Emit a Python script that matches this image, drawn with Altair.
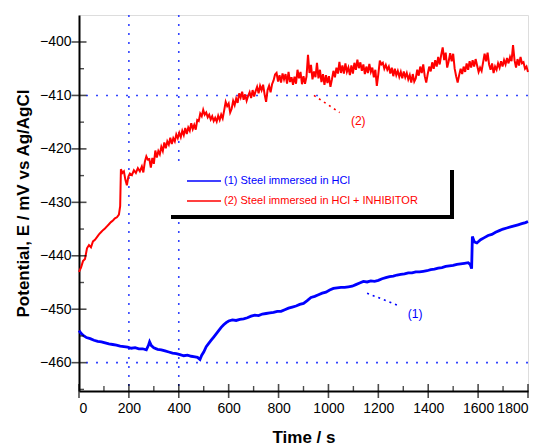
import altair as alt
import pandas as pd

# ---- data ----
red_t = [0, 8, 16, 24, 32, 40, 48, 56, 64, 72, 80, 88, 96, 104, 112, 120, 128, 136, 144, 152, 160, 165, 168, 174, 180, 186, 192, 198, 204, 212, 220, 228, 236, 244, 252, 258, 264, 270, 276, 282, 288, 294, 300, 306, 312, 318, 324, 330, 336, 342, 348, 354, 360, 366, 372, 378, 384, 390, 396, 402, 408, 414, 420, 426, 432, 438, 444, 450, 456, 462, 468, 474, 480, 486, 492, 498, 504, 510, 516, 522, 528, 534, 540, 546, 552, 558, 564, 570, 576, 582, 588, 594, 600, 606, 612, 618, 624, 630, 636, 642, 648, 654, 660, 666, 672, 678, 684, 690, 696, 702, 708, 714, 720, 726, 732, 738, 744, 750, 756, 762, 768, 774, 780, 786, 792, 798, 804, 810, 816, 822, 828, 834, 840, 846, 852, 858, 864, 870, 876, 882, 888, 894, 900, 906, 912, 918, 924, 930, 936, 942, 948, 954, 960, 966, 972, 978, 984, 990, 996, 1002, 1008, 1014, 1020, 1026, 1032, 1038, 1044, 1050, 1056, 1062, 1068, 1074, 1080, 1086, 1092, 1098, 1104, 1110, 1116, 1122, 1128, 1134, 1140, 1146, 1152, 1158, 1164, 1170, 1176, 1182, 1188, 1194, 1200, 1206, 1212, 1218, 1224, 1230, 1236, 1242, 1248, 1254, 1260, 1266, 1272, 1278, 1284, 1290, 1296, 1302, 1308, 1314, 1320, 1326, 1332, 1338, 1344, 1350, 1356, 1362, 1368, 1374, 1380, 1386, 1392, 1398, 1404, 1410, 1416, 1422, 1428, 1434, 1440, 1446, 1452, 1458, 1464, 1470, 1476, 1482, 1488, 1494, 1500, 1506, 1512, 1518, 1524, 1530, 1536, 1542, 1548, 1554, 1560, 1566, 1572, 1578, 1584, 1590, 1596, 1602, 1608, 1614, 1620, 1626, 1632, 1638, 1644, 1650, 1656, 1662, 1668, 1674, 1680, 1686, 1692, 1698, 1704, 1710, 1716, 1722, 1728, 1734, 1740, 1746, 1752, 1758, 1764, 1770, 1776, 1782, 1788, 1794, 1800]
red_v = [-443.0, -442.2, -441.0, -440.6, -438.6, -438.0, -438.4, -437.3, -437.0, -436.5, -436.0, -435.6, -435.2, -434.9, -434.5, -434.1, -433.7, -433.4, -433.0, -432.8, -432.3, -430.7, -423.8, -424.5, -424.2, -425.8, -426.8, -425.2, -424.6, -424.9, -424.0, -424.5, -423.6, -424.2, -423.3, -424.4, -422.4, -421.4, -422.0, -421.9, -423.5, -421.7, -422.8, -420.3, -421.6, -420.4, -421.0, -419.6, -420.4, -418.8, -419.9, -418.6, -419.2, -417.9, -419.1, -418.0, -418.6, -417.3, -418.0, -417.0, -417.8, -416.6, -417.4, -416.1, -417.2, -416.0, -416.6, -415.2, -416.3, -415.5, -416.4, -414.6, -414.8, -413.4, -413.9, -412.7, -413.6, -413.2, -414.1, -413.6, -414.5, -413.9, -414.8, -414.2, -414.9, -413.8, -414.6, -413.6, -414.3, -412.8, -411.2, -412.0, -411.5, -413.2, -412.5, -411.0, -411.8, -410.6, -411.4, -409.6, -410.4, -409.3, -410.8, -409.8, -411.0, -410.1, -409.4, -410.5, -409.0, -410.2, -409.2, -408.4, -409.6, -408.2, -409.0, -408.0, -409.8, -411.2, -409.0, -408.2, -409.4, -407.9, -407.2, -406.1, -405.8, -407.4, -406.2, -407.6, -405.9, -407.0, -406.0, -407.8, -405.6, -407.5, -406.6, -408.0, -406.5, -407.8, -405.2, -406.8, -405.6, -407.9, -406.4, -407.8, -406.5, -402.4, -405.8, -404.3, -407.0, -405.5, -406.6, -403.9, -406.8, -405.2, -407.5, -406.0, -408.0, -406.2, -407.7, -406.4, -408.4, -407.0, -405.4, -406.6, -404.8, -405.9, -403.7, -405.8, -404.4, -405.9, -404.0, -405.6, -404.8, -406.2, -404.4, -405.9, -403.9, -405.2, -403.3, -404.9, -403.8, -405.4, -404.2, -406.0, -404.6, -405.8, -404.1, -405.6, -404.8, -406.6, -405.2, -408.2, -406.0, -403.5, -404.2, -403.9, -405.0, -404.3, -405.2, -404.6, -405.9, -404.8, -406.4, -405.0, -406.2, -405.4, -406.5, -405.6, -406.8, -405.5, -406.6, -405.8, -407.0, -406.2, -407.6, -406.0, -407.4, -406.8, -405.2, -406.3, -404.6, -405.8, -404.2, -406.4, -407.6, -406.0, -404.6, -405.5, -403.8, -405.0, -403.4, -404.6, -402.8, -404.2, -402.4, -401.0, -403.4, -402.0, -404.8, -403.6, -402.1, -403.6, -402.2, -405.0, -406.4, -407.6, -406.2, -405.0, -406.0, -404.6, -405.6, -404.0, -405.2, -403.6, -404.8, -403.4, -404.6, -403.2, -404.4, -405.6, -404.8, -405.4, -403.8, -402.2, -403.6, -402.0, -404.2, -405.2, -404.0, -405.8, -404.6, -405.2, -404.0, -404.8, -403.6, -404.6, -403.4, -404.2, -403.0, -404.0, -402.8, -403.6, -400.6, -403.4, -404.8, -403.2, -404.4, -402.8, -404.0, -403.8, -405.0, -404.6, -405.6]

blue_t = [0, 10, 20, 30, 45, 60, 75, 90, 105, 120, 135, 150, 165, 180, 195, 210, 225, 240, 255, 270, 278, 283, 290, 300, 315, 330, 345, 360, 375, 390, 405, 420, 435, 450, 465, 475, 485, 492, 500, 510, 520, 530, 540, 550, 560, 570, 580, 590, 600, 615, 630, 645, 660, 675, 690, 705, 720, 735, 750, 765, 780, 795, 810, 825, 840, 855, 870, 885, 900, 915, 930, 945, 960, 975, 990, 1005, 1020, 1035, 1050, 1065, 1080, 1095, 1110, 1125, 1140, 1155, 1170, 1185, 1200, 1215, 1230, 1245, 1260, 1275, 1290, 1305, 1320, 1335, 1350, 1365, 1380, 1395, 1410, 1425, 1440, 1455, 1470, 1485, 1500, 1515, 1530, 1545, 1560, 1568, 1574, 1577, 1585, 1595, 1610, 1625, 1640, 1655, 1670, 1685, 1700, 1715, 1730, 1745, 1760, 1775, 1790, 1800]
blue_v = [-454.0, -454.6, -455.0, -455.3, -455.5, -455.8, -456.0, -456.1, -456.3, -456.5, -456.6, -456.7, -456.9, -457.0, -457.1, -457.3, -457.2, -457.4, -457.4, -457.6, -456.8, -456.1, -456.8, -457.2, -457.5, -457.6, -457.8, -458.0, -458.2, -458.3, -458.5, -458.7, -458.6, -458.8, -458.9, -459.0, -459.4, -458.6, -458.0, -457.0, -456.4, -455.8, -455.2, -454.6, -454.0, -453.4, -452.9, -452.5, -452.2, -452.0, -452.1, -451.9, -451.8, -451.6, -451.3, -451.1, -451.2, -450.9, -450.8, -450.7, -450.6, -450.4, -450.4, -450.1, -449.8, -449.6, -449.4, -449.1, -448.9, -448.4, -447.8, -447.6, -447.3, -447.0, -446.8, -446.4, -446.1, -446.0, -445.9, -445.9, -445.8, -445.7, -445.4, -445.1, -444.8, -444.9, -444.7, -444.8, -444.6, -444.3, -444.1, -443.9, -443.8, -443.6, -443.5, -443.4, -443.2, -443.2, -443.0, -443.0, -442.9, -442.8, -442.6, -442.5, -442.3, -442.2, -442.0, -441.9, -441.8, -441.6, -441.5, -441.4, -441.3, -441.6, -442.4, -436.4, -437.4, -437.6, -437.0, -436.6, -436.2, -436.0, -435.6, -435.3, -435.0, -434.8, -434.6, -434.4, -434.2, -434.0, -433.8, -433.6]

x_ticks = [0, 200, 400, 600, 800, 1000, 1200, 1400, 1600, 1800]
x_minor = [100, 300, 500, 700, 900, 1100, 1300, 1500, 1700]
y_ticks = [-400, -410, -420, -430, -440, -450, -460]
y_minor = [-405, -415, -425, -435, -445, -455, -465]
grid_x = [200, 400]
grid_y = [-410, -460]

labels = ["(2)", "(1)"]
label_t = [1090, 1318]
label_v = [-414.8, -450.8]
leader_t1 = [942, 1155]
leader_v1 = [-410.0, -447.0]
leader_t2 = [1045, 1285]
leader_v2 = [-413.2, -449.4]
label_colors = ["#ff0000", "#0000ff"]

legend_names = ["(1) Steel immersed in HCl", "(2) Steel immersed in HCl + INHIBITOR"]
legend_colors = ["#0000ff", "#ff0000"]

X_DOM = [0, 1800]
Y_DOM = [-465.3, -394.95]
W, H = 449, 376
FONT = "Liberation Sans"

xs = alt.Scale(domain=X_DOM, nice=False, zero=False)
ys = alt.Scale(domain=Y_DOM, nice=False, zero=False)

x_axis = alt.Axis(values=x_ticks, title="Time / s", ticks=False, tickSize=0, grid=False,
                  domainColor="black", domainWidth=2, labelFont=FONT, labelFontSize=14,
                  labelColor="black", labelPadding=10, titleFont=FONT, titleFontSize=17,
                  titleFontWeight="bold", titleColor="black", titlePadding=14, format="d")
y_axis = alt.Axis(values=y_ticks, title="Potential, E / mV vs Ag/AgCl", ticks=False, tickSize=0,
                  grid=False, domainColor="black", domainWidth=2, labelFont=FONT, labelFontSize=14,
                  labelColor="black", labelPadding=8, titleFont=FONT, titleFontSize=17,
                  titleFontWeight="bold", titleColor="black", titlePadding=7, format="d")


def X(field):
    return alt.X(field, type="quantitative", scale=xs, axis=x_axis, title="Time / s")


def Y(field):
    return alt.Y(field, type="quantitative", scale=ys, axis=y_axis, title="Potential, E / mV vs Ag/AgCl")


red_df = pd.DataFrame({"t": red_t, "v": red_v})
blue_df = pd.DataFrame({"t": blue_t, "v": blue_v})

red_line = alt.Chart(red_df).mark_line(color="#ff0000", strokeWidth=2).encode(x=X("t"), y=Y("v"))
blue_line = alt.Chart(blue_df).mark_line(color="#0000ff", strokeWidth=2.8).encode(x=X("t"), y=Y("v"))

gx = alt.Chart(pd.DataFrame({"t": grid_x})).mark_rule(
    color="#3344ff", strokeWidth=1.6, strokeDash=[2, 7]).encode(x=X("t"))
gy = alt.Chart(pd.DataFrame({"v": grid_y})).mark_rule(
    color="#3344ff", strokeWidth=1.6, strokeDash=[2, 8]).encode(y=Y("v"))

xt = alt.Chart(pd.DataFrame({"t": x_ticks})).mark_tick(
    orient="vertical", color="black", size=14, thickness=1.6).encode(
    x=X("t"), y=alt.value(H))
xm = alt.Chart(pd.DataFrame({"t": x_minor})).mark_tick(
    orient="vertical", color="black", size=5, thickness=1.4).encode(
    x=X("t"), y=alt.value(H - 2.5))
yt = alt.Chart(pd.DataFrame({"v": y_ticks})).mark_tick(
    orient="horizontal", color="black", size=15, thickness=1.6).encode(
    y=Y("v"), x=alt.value(0))
ym = alt.Chart(pd.DataFrame({"v": y_minor})).mark_tick(
    orient="horizontal", color="black", size=5, thickness=1.4).encode(
    y=Y("v"), x=alt.value(2.5))

ann_df = pd.DataFrame({"label": labels, "t": label_t, "v": label_v, "t1": leader_t1, "v1": leader_v1,
                       "t2": leader_t2, "v2": leader_v2})
color_scale = alt.Scale(domain=labels, range=label_colors)
leaders = alt.Chart(ann_df).mark_rule(strokeWidth=1.6, strokeDash=[2, 4]).encode(
    x=X("t1"), y=Y("v1"), x2="t2:Q", y2="v2:Q",
    color=alt.Color("label:N", scale=color_scale, legend=None))
ann_text = alt.Chart(ann_df).mark_text(font=FONT, fontSize=12, align="left", baseline="middle").encode(
    x=X("t"), y=Y("v"), text="label:N",
    color=alt.Color("label:N", scale=color_scale, legend=None))

# legend box (decoration) with drop shadow
one = pd.DataFrame({"a": [0]})
shadow = alt.Chart(one).mark_rect(color="black").encode(
    x=alt.value(92), x2=alt.value(375), y=alt.value(155), y2=alt.value(204))
box = alt.Chart(one).mark_rect(color="white").encode(
    x=alt.value(88), x2=alt.value(371), y=alt.value(151), y2=alt.value(200))
leg_layers = []
for i, (name, col) in enumerate(zip(legend_names, legend_colors)):
    yy = 166 + 20 * i
    leg_layers.append(alt.Chart(one).mark_rule(color=col, strokeWidth=1.6).encode(
        x=alt.value(108), x2=alt.value(142), y=alt.value(yy)))
    leg_layers.append(alt.Chart(one).mark_text(
        text=name, color=col, font=FONT, fontSize=11, align="left", baseline="middle").encode(
        x=alt.value(145), y=alt.value(yy)))

chart = alt.layer(gx, gy, red_line, blue_line, leaders, ann_text, xt, xm, yt, ym,
                  shadow, box, *leg_layers).properties(
    width=W, height=H,
    autosize=alt.AutoSizeParams(type="none"),
    padding={"left": 71, "top": 7, "right": 12, "bottom": 55},
).configure_view(stroke=None).configure(background="white")

chart.save("out.html", embed_options={"renderer": "svg", "actions": False})
